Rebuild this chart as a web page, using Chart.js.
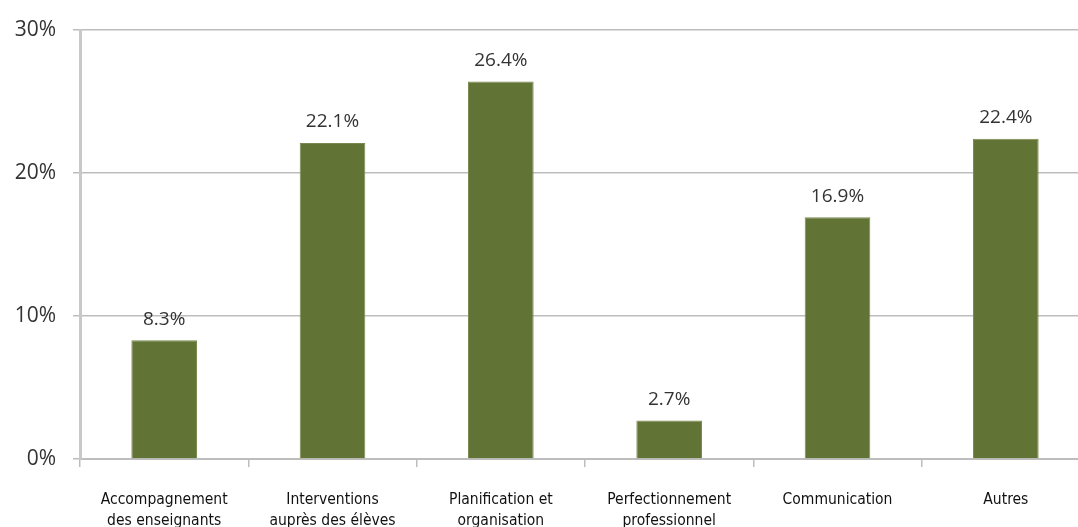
<!DOCTYPE html>
<html lang="fr">
<head>
<meta charset="utf-8">
<script src="https://cdn.jsdelivr.net/npm/chart.js@4/dist/chart.umd.min.js"></script>
<style>
  html, body { margin: 0; padding: 0; background: #fff; overflow: hidden; }
  #wrap { position: absolute; left: 0; top: 0; width: 1090px; height: 527px; }
</style>
</head>
<body>
<div id="wrap"><canvas id="chart" width="1090" height="527"></canvas></div>
<script>
/* categories, values and axis ticks */
const categories = [
  ['Accompagnement', 'des enseignants'],
  ['Interventions', 'auprès des élèves'],
  ['Planification et', 'organisation'],
  ['Perfectionnement', 'professionnel'],
  ['Communication'],
  ['Autres'],
];
const shares = [8.3, 22.1, 26.4, 2.7, 16.9, 22.4];
const yTicks = [0, 10, 20, 30];

const BAR   = '#617335';
const GRID  = '#bdbdbd';
const TEXT  = '#333';

/* value labels above each bar */
const valueLabels = {
  id: 'valueLabels',
  afterDatasetsDraw(chart) {
    const ctx = chart.ctx;
    const meta = chart.getDatasetMeta(0);
    ctx.save();
    ctx.font = '19px "Open Sans", sans-serif';
    ctx.fillStyle = TEXT;
    ctx.textAlign = 'center';
    ctx.textBaseline = 'middle';
    meta.data.forEach((bar, i) => {
      ctx.fillText(shares[i].toFixed(1) + '%', bar.x, bar.y - 21);
    });
    ctx.restore();
  }
};

new Chart(document.getElementById('chart'), {
  type: 'bar',
  data: {
    labels: categories,
    datasets: [{
      data: shares,
      backgroundColor: BAR,
      borderColor: '#7a8a4e',
      borderWidth: 1,
      categoryPercentage: 1,
      barPercentage: 0.39,
    }]
  },
  options: {
    responsive: false,
    animation: false,
    layout: { padding: { top: 30, right: 0, bottom: 0, left: 0 } },
    plugins: {
      legend: { display: false },
      tooltip: { enabled: false },
    },
    scales: {
      x: {
        afterFit: s => { s.height = 68; },
        grid: { drawOnChartArea: false, color: GRID, lineWidth: 1.5, tickLength: 8, offset: true },
        border: { color: GRID, width: 2 },
        ticks: {
          color: '#111',
          font: { family: '"Liberation Sans Narrow", "DejaVu Sans Condensed", sans-serif', size: 15.5, lineHeight: 1.35 },
          padding: 23,
          maxRotation: 0,
          autoSkip: false,
        },
      },
      y: {
        min: 0, max: 30,
        afterFit: s => { s.width = 80; },
        afterBuildTicks: s => { s.ticks = yTicks.map(v => ({ value: v })); },
        grid: { color: GRID, lineWidth: 1.5, tickLength: 7 },
        border: { color: '#c8c8c8', width: 3 },
        ticks: {
          color: TEXT,
          font: { family: '"Open Sans", sans-serif', size: 21 },
          padding: 17,
          callback: v => v + '%',
        },
      }
    }
  },
  plugins: [valueLabels]
});
</script>
</body>
</html>
